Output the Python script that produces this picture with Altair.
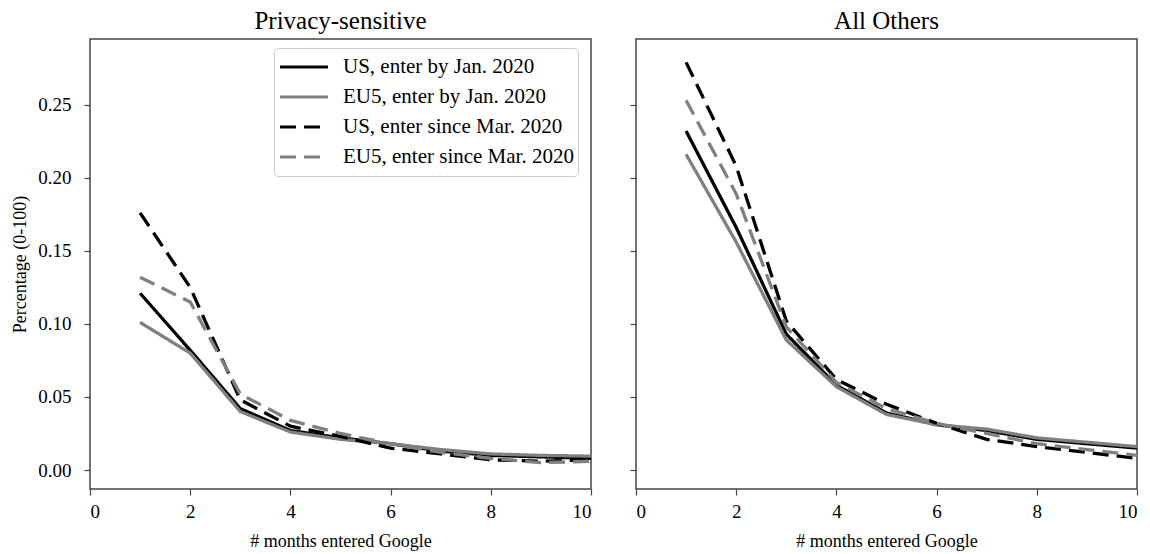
import altair as alt
import pandas as pd

months = [1, 2, 3, 4, 5, 6, 7, 8, 9, 10]
series = ["US, enter by Jan. 2020", "EU5, enter by Jan. 2020",
          "US, enter since Mar. 2020", "EU5, enter since Mar. 2020"]
panels = ["Privacy-sensitive", "All Others"]
x_ticks = [0, 2, 4, 6, 8, 10]
y_ticks = [0.0, 0.05, 0.10, 0.15, 0.20, 0.25]

priv_us_jan = [0.121, 0.082, 0.042, 0.027, 0.022, 0.018, 0.013, 0.010, 0.009, 0.008]
priv_eu_jan = [0.101, 0.080, 0.040, 0.026, 0.021, 0.018, 0.014, 0.011, 0.010, 0.0095]
priv_us_mar = [0.176, 0.125, 0.048, 0.030, 0.023, 0.015, 0.011, 0.007, 0.006, 0.007]
priv_eu_mar = [0.132, 0.115, 0.052, 0.034, 0.025, 0.018, 0.012, 0.008, 0.005, 0.006]

oth_us_jan = [0.232, 0.166, 0.093, 0.058, 0.039, 0.031, 0.027, 0.021, 0.018, 0.015]
oth_eu_jan = [0.216, 0.156, 0.089, 0.057, 0.038, 0.031, 0.028, 0.022, 0.019, 0.016]
oth_us_mar = [0.279, 0.208, 0.102, 0.062, 0.045, 0.032, 0.021, 0.016, 0.012, 0.008]
oth_eu_mar = [0.253, 0.189, 0.098, 0.060, 0.042, 0.032, 0.025, 0.018, 0.014, 0.010]

panel_values = {
    panels[0]: [priv_us_jan, priv_eu_jan, priv_us_mar, priv_eu_mar],
    panels[1]: [oth_us_jan, oth_eu_jan, oth_us_mar, oth_eu_mar],
}

rows = []
for p in panels:
    for s, vals in zip(series, panel_values[p]):
        for m, v in zip(months, vals):
            rows.append({"panel": p, "series": s, "month": m, "value": v})
df = pd.DataFrame(rows)

FONT = "Liberation Serif"
colors = ["#000000", "#808080", "#000000", "#808080"]
dashes = [[1, 0], [1, 0], [16, 8], [16, 8]]


def panel_chart(name, first):
    legend = alt.Legend(
        title=None, orient="none", legendX=184, legendY=9,
        symbolType="stroke", symbolSize=2304, symbolStrokeWidth=3.2,
        labelFont=FONT, labelFontSize=21, labelColor="black", labelOffset=13,
        clipHeight=30, rowPadding=0, padding=4, fillColor="white",
        strokeColor="#cccccc", cornerRadius=4, labelLimit=400,
    ) if first else None
    yaxis = alt.Axis(
        values=y_ticks, format=".2f", grid=False, domain=False,
        tickSize=6, tickColor="#444444", tickWidth=1.2,
        labelFont=FONT, labelFontSize=19, labelColor="black", labelPadding=13,
        labels=first,
        title="Percentage (0-100)" if first else None,
        titleFont=FONT, titleFontSize=18, titleFontWeight="normal",
        titleColor="black", titlePadding=8,
    )
    xaxis = alt.Axis(
        values=x_ticks, format="d", grid=False, domain=False,
        tickSize=6, tickColor="#444444", tickWidth=1.2,
        labelFont=FONT, labelFontSize=19, labelColor="black", labelPadding=7,
        title="# months entered Google",
        titleFont=FONT, titleFontSize=18, titleFontWeight="normal",
        titleColor="black", titlePadding=11,
    )
    return alt.Chart(df[df["panel"] == name]).mark_line(
        strokeWidth=3.3, strokeCap="butt", clip=True
    ).encode(
        x=alt.X("month:Q", scale=alt.Scale(domain=[0, 10], nice=False, zero=False), axis=xaxis),
        y=alt.Y("value:Q", scale=alt.Scale(domain=[-0.013, 0.295], nice=False, zero=False), axis=yaxis),
        color=alt.Color("series:N", scale=alt.Scale(domain=series, range=colors), legend=legend),
        strokeDash=alt.StrokeDash("series:N", scale=alt.Scale(domain=series, range=dashes), legend=legend),
    ).properties(
        width=501, height=450,
        title=alt.TitleParams(name, font=FONT, fontSize=25, fontWeight="normal",
                              color="black", offset=5, anchor="middle"),
    )


chart = alt.hconcat(
    panel_chart(panels[0], True), panel_chart(panels[1], False),
    spacing=45, bounds="flush",
).resolve_scale(
    color="independent", strokeDash="independent", y="independent", x="independent"
).configure_view(
    stroke="#444444", strokeWidth=1.5
).properties(
    padding={"left": 3, "top": 0, "right": 0, "bottom": 0}
)

chart.save("out.html", embed_options={"renderer": "svg", "actions": False})
